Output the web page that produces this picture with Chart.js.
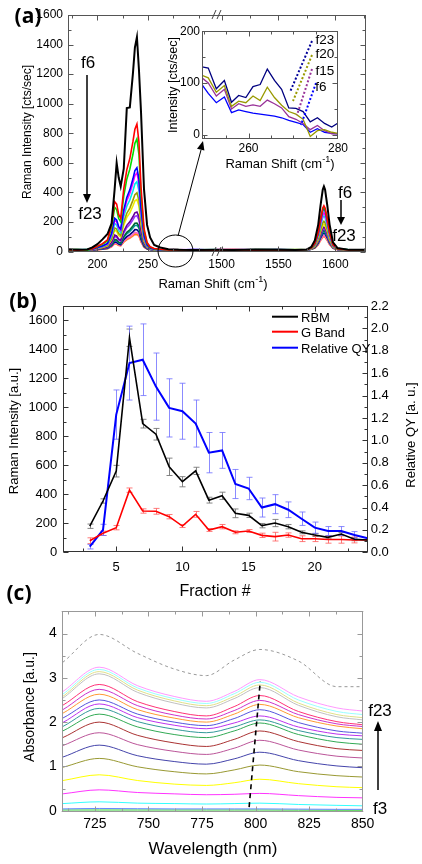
<!DOCTYPE html>
<html>
<head>
<meta charset="utf-8">
<title>Raman, QY and absorbance of sorted fractions</title>
<script src="https://cdn.jsdelivr.net/npm/chart.js@4"></script>
<style>
  body { margin: 0; background: #fff; }
  #fig { position: relative; width: 422px; height: 864px; overflow: hidden; font-family: "Liberation Sans", Arial, sans-serif; }
  #fig canvas { position: absolute; }
  .lbl { position: absolute; white-space: nowrap; line-height: 1; color: #000; transform: translate(-50%, -50%); }
  .rot { transform: translate(-50%, -50%) rotate(-90deg); }
  .left { transform: translate(0, -50%); }
  .panel { font-family: "Open Sans", sans-serif; font-weight: bold; }
  sup { font-size: 70%; line-height: 0; }
  svg { position: absolute; left: 0; top: 0; }
</style>
</head>
<body>
<div id="fig">
  <canvas id="aL" width="217" height="290" style="left:0;top:0"></canvas>
  <canvas id="aR" width="222" height="290" style="left:200px;top:0"></canvas>
  <canvas id="aI" width="190" height="140" style="left:160px;top:22px"></canvas>
  <canvas id="b" width="422" height="320" style="left:0;top:282px"></canvas>
  <canvas id="c" width="422" height="266" style="left:0;top:598px"></canvas>

  <svg width="422" height="864">
    <!-- axis break -->
    <path d="M212,19 L216,10 M217,19 L221,10 M212,256 L216,247 M217,256 L221,247" stroke="#444" stroke-width="1" fill="none"/>
    <!-- zoom marker -->
    <ellipse cx="175.5" cy="251" rx="17.5" ry="16" fill="none" stroke="#000" stroke-width="1"/>
    <line x1="178" y1="236" x2="201" y2="150" stroke="#000" stroke-width="1"/>
    <polygon points="203,141 204.4,150.6 197,148.7" fill="#000"/>
    <!-- f6 -> f23 arrows -->
    <line x1="87" y1="75" x2="87" y2="195" stroke="#000" stroke-width="1.5"/>
    <polygon points="83,194 91,194 87,203" fill="#000"/>
    <line x1="341" y1="200" x2="341" y2="218" stroke="#000" stroke-width="1.5"/>
    <polygon points="337,217 345,217 341,225" fill="#000"/>
    <!-- inset guide lines -->
    <line x1="312" y1="41" x2="290" y2="92" stroke="#000099" stroke-width="2" stroke-dasharray="2 2"/>
    <line x1="312" y1="55" x2="293" y2="101" stroke="#999900" stroke-width="2" stroke-dasharray="2 2"/>
    <line x1="312" y1="69" x2="297" y2="115" stroke="#993399" stroke-width="2" stroke-dasharray="2 2"/>
    <line x1="316" y1="83" x2="301" y2="125" stroke="#0000ff" stroke-width="2" stroke-dasharray="2 2"/>
    <!-- legend (b) -->
    <line x1="272" y1="316.7" x2="298" y2="316.7" stroke="#000" stroke-width="2"/>
    <line x1="272" y1="331.7" x2="298" y2="331.7" stroke="#ff0000" stroke-width="2"/>
    <line x1="272" y1="347.7" x2="298" y2="347.7" stroke="#0000ff" stroke-width="2"/>
    <!-- f3 -> f23 arrow -->
    <line x1="378" y1="790" x2="378" y2="729" stroke="#000" stroke-width="1.5"/>
    <polygon points="374,731 382,731 378,721" fill="#000"/>
  </svg>

  <div class="lbl panel" style="left:28px;top:15px;font-size:21px">(a)</div>
  <div class="lbl rot" style="left:27px;top:132px;font-size:12px">Raman Intensity [cts/sec]</div>
  <div class="lbl" style="left:213px;top:283px;font-size:13px">Raman Shift (cm<sup>-1</sup>)</div>
  <div class="lbl" style="left:88px;top:62px;font-size:17px">f6</div>
  <div class="lbl" style="left:90px;top:213px;font-size:17px">f23</div>
  <div class="lbl" style="left:345px;top:192px;font-size:17px">f6</div>
  <div class="lbl" style="left:344px;top:235px;font-size:17px">f23</div>
  <div class="lbl rot" style="left:173px;top:85px;font-size:12.5px">Intensity [cts/sec]</div>
  <div class="lbl" style="left:280px;top:163px;font-size:13px">Raman Shift (cm<sup>-1</sup>)</div>
  <div class="lbl" style="left:325px;top:40px;font-size:13.5px">f23</div>
  <div class="lbl" style="left:325px;top:54px;font-size:13.5px">f20</div>
  <div class="lbl" style="left:325px;top:71px;font-size:13.5px">f15</div>
  <div class="lbl" style="left:321px;top:87px;font-size:13.5px">f6</div>

  <div class="lbl panel" style="left:23px;top:300px;font-size:21px">(b)</div>
  <div class="lbl rot" style="left:12.5px;top:431px;font-size:13px">Raman Intensity [a.u.]</div>
  <div class="lbl rot" style="left:410px;top:435px;font-size:13px">Relative QY [a. u.]</div>
  <div class="lbl" style="left:215px;top:591px;font-size:16px">Fraction #</div>
  <div class="lbl left" style="left:301px;top:316.7px;font-size:13px">RBM</div>
  <div class="lbl left" style="left:301px;top:331.7px;font-size:13px">G Band</div>
  <div class="lbl left" style="left:301px;top:347.7px;font-size:13px">Relative QY</div>

  <div class="lbl panel" style="left:19px;top:592px;font-size:21px">(c)</div>
  <div class="lbl rot" style="left:28.5px;top:707px;font-size:14px">Absorbance [a.u.]</div>
  <div class="lbl" style="left:213px;top:848px;font-size:17px">Wavelength (nm)</div>
  <div class="lbl" style="left:380px;top:710px;font-size:17px">f23</div>
  <div class="lbl" style="left:380px;top:808px;font-size:17px">f3</div>
</div>

<script>
var FONT = '"Liberation Sans", Arial, sans-serif';

// ---- (a) Raman spectra, RBM region (left) and G band (right); f6 first ----
var shiftRBM = [171,180,190,195,200,205,210,214,217,219,221,223,226,229,232,235,237,239,241,243,246,249,252,256,262,270,280,295,318];
var shiftG = [1496,1510,1530,1550,1565,1575,1579,1582,1585,1587,1589,1590,1591,1593,1595,1598,1602,1612,1627];
var fractionColors = ['#000000','#ff0000','#00dd00','#0000ff','#ff00ff','#00e5ee','#9c9c00','#eeee00','#660099','#9933ff','#006633','#009999','#000080','#ff66cc','#ff8c00','#ff9999'];

var spectraRBM = [
  [15,12,14,28,50,82,118,190,420,600,500,440,560,970,975,1200,1380,1450,1230,950,420,180,95,44,27,15,12,10,12],
  [12,9,14,19,36,53,79,182,337,320,251,225,423,552,629,741,827,862,741,440,156,62,32,20,15,10,12,9,11],
  [11,13,9,18,33,48,71,162,299,284,223,200,375,489,557,656,732,762,656,390,139,56,29,18,14,10,13,8,12],
  [10,14,11,16,27,38,55,123,225,213,168,151,281,366,417,490,547,567,490,293,106,44,24,16,13,12,9,14,10],
  [13,10,12,15,26,37,52,116,211,201,158,143,264,344,392,461,514,532,461,275,100,42,23,15,12,11,13,10,12],
  [10,12,14,15,24,34,48,104,189,179,142,128,236,306,348,410,457,472,410,245,90,38,22,14,12,10,12,9,11],
  [12,9,13,14,22,30,42,89,160,152,121,109,200,259,294,346,385,397,346,208,77,34,20,14,12,11,9,12,10],
  [10,13,11,14,21,28,38,80,143,136,108,98,178,231,262,308,343,352,308,185,70,31,19,13,12,10,12,11,9],
  [11,10,12,13,18,23,31,63,111,105,84,76,137,177,201,235,262,267,235,143,55,26,17,12,11,12,10,11,12],
  [12,11,10,12,17,22,29,58,101,96,77,70,125,161,183,214,238,242,214,130,51,24,16,13,11,10,11,13,10],
  [10,12,11,12,16,20,25,48,82,78,63,58,101,130,147,172,191,192,172,105,42,21,15,12,11,11,10,12,11],
  [11,10,13,12,15,19,24,45,77,73,59,54,94,120,136,159,176,177,159,98,40,21,14,12,11,12,10,11,13],
  [10,11,12,11,14,17,22,39,65,62,51,46,80,101,114,133,148,147,133,83,35,19,14,11,10,10,11,12,10],
  [12,10,11,11,14,16,20,35,58,55,45,41,70,89,100,116,129,127,116,73,31,18,13,12,11,10,12,11,10],
  [11,10,12,11,13,16,19,33,54,51,42,39,65,82,93,108,119,117,108,68,30,17,13,11,10,10,11,12,10],
  [10,12,11,11,13,15,19,32,52,50,41,38,63,79,89,104,114,112,104,65,29,17,13,11,11,11,10,12,11]
];

var spectraG = [
  [12,10,13,11,10,14,32,75,182,311,419,440,419,311,182,62,23,11,12],
  [11,13,9,12,10,13,25,55,130,220,295,310,295,220,130,46,19,10,12],
  [12,10,13,11,12,13,25,54,126,213,286,300,286,213,126,45,19,11,10],
  [10,12,11,13,11,13,24,52,122,206,276,290,276,206,122,44,18,12,11],
  [13,11,12,10,12,13,23,48,110,185,248,260,248,185,110,40,18,10,12],
  [11,10,12,12,11,12,22,45,102,171,229,240,229,171,102,38,17,12,10],
  [10,12,11,13,10,12,20,39,88,147,195,205,195,147,88,33,16,11,12],
  [12,11,10,12,13,12,19,36,80,133,176,185,176,133,80,31,15,12,11],
  [11,13,12,10,11,12,18,33,72,119,157,165,157,119,72,29,15,10,12],
  [10,11,13,12,10,11,17,32,68,112,148,155,148,112,68,27,14,12,11],
  [12,10,11,13,12,11,17,30,64,105,138,145,138,105,64,26,14,11,10],
  [11,12,10,11,13,11,16,29,60,98,129,135,129,98,60,25,14,12,11],
  [10,11,12,10,11,11,16,27,56,91,119,125,119,91,56,24,13,10,12],
  [12,10,11,12,10,11,15,25,50,80,105,110,105,80,50,22,13,11,10],
  [11,12,10,11,12,11,15,24,48,77,100,105,100,77,48,21,13,12,11],
  [10,11,12,10,11,11,15,24,46,73,96,100,96,73,46,21,13,10,12]
];

// inset, 250-280 cm-1
var insetShift = [249.6,251,252.8,254.6,256.2,257.8,259.4,261,262.6,264.2,265.8,267.4,269,270.6,272.2,273.8,275.4,277,278.6,280];
var insetF23 = [131,129,89,105,63,76,72,93,97,127,105,88,52,51,45,25,33,22,15,23];
var insetF20 = [115,110,82,95,55,65,62,75,66,92,72,57,45,40,30,-3,8,10,5,3];
var insetF15 = [110,100,75,88,50,60,55,58,55,67,60,52,35,30,22,10,18,8,2,2];
var insetF6 = [97,80,62,73,43,48,45,42,40,38,36,33,28,24,20,5,12,5,3,2];

// ---- (b) per-fraction intensities and QY ----
var fractionNo = [3,4,5,6,7,8,9,10,11,12,13,14,15,16,17,18,19,20,21,22,23,24];
var rbmInt = [180,354,560,1481,888,815,590,487,562,360,390,269,255,184,202,177,138,119,103,126,90,85];
var rbmErr = [15,15,40,60,30,40,60,35,25,20,25,30,15,15,25,15,10,10,10,10,10,0];
var gBandInt = [80,131,170,429,285,283,246,181,262,154,177,138,147,117,108,119,94,94,88,88,85,85];
var gBandErr = [20,15,15,15,15,20,15,10,20,10,15,10,10,15,30,15,20,20,25,25,20,0];
var relQY = [0.05,0.20,1.23,1.69,1.72,1.48,1.29,1.26,1.15,0.89,0.91,0.61,0.57,0.40,0.43,0.38,0.30,0.22,0.19,0.19,0.155,0.125];
var relQYErr = [0.02,0.05,0.22,0.33,0.32,0.30,0.26,0.25,0.21,0.18,0.16,0.13,0.10,0.085,0.085,0.07,0.06,0.05,0.04,0.04,0.03,0];

// ---- (c) absorbance, f23 (top) ... f3 (bottom) ----
var wavelength = [710,727,745,762,777,790,802,820,838,850];
var absColors = ['#ff99ff','#99ffff','#e0e08a','#c0c0c0','#ff3377','#cc33cc','#ff9933','#5555dd','#bb33ee','#339999','#33aa55','#aa3333','#bb5599','#4444aa','#999933','#ffff00','#ff33ff','#33ffff','#6688ff','#33cc33'];
var absorbance = [
  [2.69,3.24,2.82,2.58,2.47,2.69,2.96,2.57,2.32,2.25],
  [2.63,3.19,2.77,2.53,2.42,2.64,2.90,2.50,2.24,2.17],
  [2.58,3.14,2.72,2.48,2.37,2.58,2.84,2.43,2.17,2.10],
  [2.54,3.09,2.67,2.43,2.32,2.53,2.78,2.38,2.12,2.05],
  [2.38,2.85,2.46,2.24,2.14,2.35,2.60,2.24,2.01,1.94],
  [2.28,2.74,2.37,2.16,2.07,2.26,2.49,2.17,1.96,1.90],
  [2.20,2.63,2.28,2.09,2.00,2.18,2.40,2.10,1.91,1.85],
  [2.09,2.50,2.18,2.00,1.92,2.08,2.28,1.99,1.80,1.75],
  [1.99,2.41,2.10,1.93,1.85,1.98,2.14,1.89,1.73,1.69],
  [1.90,2.31,2.01,1.84,1.76,1.89,2.05,1.81,1.65,1.61],
  [1.80,2.18,1.89,1.72,1.65,1.80,1.98,1.72,1.55,1.50],
  [1.65,2.00,1.70,1.53,1.45,1.61,1.80,1.56,1.40,1.36],
  [1.47,1.76,1.49,1.34,1.27,1.41,1.59,1.37,1.23,1.19],
  [1.21,1.48,1.24,1.11,1.05,1.17,1.32,1.13,1.01,0.97],
  [0.98,1.18,0.99,0.88,0.83,0.92,1.03,0.88,0.79,0.76],
  [0.68,0.81,0.68,0.60,0.57,0.63,0.71,0.61,0.54,0.52],
  [0.38,0.47,0.41,0.38,0.36,0.37,0.39,0.34,0.30,0.29],
  [0.16,0.20,0.17,0.16,0.15,0.16,0.17,0.14,0.12,0.11],
  [0.04,0.05,0.045,0.04,0.04,0.04,0.04,0.035,0.03,0.03],
  [0.015,0.015,0.015,0.015,0.015,0.015,0.015,0.012,0.01,0.01]
];
var absReference = [3.35,3.98,3.55,3.20,3.05,3.40,3.64,3.38,2.80,2.80];
var peakShiftX = [797, 802.2];
var peakShiftY = [0.08, 2.92];

// ---- ticks ----
var aYTicks = [0,200,400,600,800,1000,1200,1400,1600], aYMinor = [100,300,500,700,900,1100,1300,1500];
var aLTicks = [200,250], aLMinor = [175,225,275,300];
var aRTicks = [1500,1550,1600], aRMinor = [1525,1575,1625];
var insXTicks = [260,280], insXMinor = [250,255,265,270,275];
var insYTicks = [0,100,200], insYMinor = [50,150];
var bXTicks = [5,10,15,20], bXMinor = [2.5,7.5,12.5,17.5,22.5];
var bYTicks = [0,200,400,600,800,1000,1200,1400,1600], bYMinor = [100,300,500,700,900,1100,1300,1500,1700];
var bY2Ticks = [0,0.2,0.4,0.6,0.8,1.0,1.2,1.4,1.6,1.8,2.0,2.2], bY2Minor = [0.1,0.3,0.5,0.7,0.9,1.1,1.3,1.5,1.7,1.9,2.1];
var cXTicks = [725,750,775,800,825,850], cXMinor = [712.5,737.5,762.5,787.5,812.5,837.5];
var cYTicks = [0,1,2,3,4], cYMinor = [0.5,1.5,2.5,3.5];

// frame + inward tick marks, per canvas
var frames = {
  aL: {sides: 'tbl', color: '#555', x: [aLTicks, aLMinor], y: [aYTicks, aYMinor]},
  aR: {sides: 'tbr', color: '#555', x: [aRTicks, aRMinor], y: [aYTicks, aYMinor]},
  aI: {sides: 'tblr', color: '#555', x: [insXTicks, insXMinor], y: [insYTicks, insYMinor]},
  b: {sides: 'tblr', color: '#333', x: [bXTicks, bXMinor], y: [bYTicks, bYMinor], y2: [bY2Ticks, bY2Minor]},
  c: {sides: 'tblr', color: '#999', x: [cXTicks, cXMinor], y: [cYTicks, cYMinor]}
};

var errorBars = {
  b: [
    {axis: 'y', color: 'rgba(120,120,120,0.9)', y: rbmInt, err: rbmErr},
    {axis: 'y', color: 'rgba(255,90,90,0.8)', y: gBandInt, err: gBandErr},
    {axis: 'y2', color: 'rgba(110,110,255,0.8)', y: relQY, err: relQYErr}
  ]
};

var framePlugin = {
  id: 'frame',
  afterDatasetsDraw: function(chart) {
    var f = frames[chart.canvas.id];
    if (!f) return;
    var ctx = chart.ctx, a = chart.chartArea;
    var L = Math.round(a.left) + 0.5, R = Math.round(a.right) - 0.5;
    var T = Math.round(a.top) + 0.5, B = Math.round(a.bottom) - 0.5;
    ctx.save();
    ctx.strokeStyle = f.color;
    ctx.lineWidth = 1;
    ctx.beginPath();
    if (f.sides.indexOf('t') >= 0) { ctx.moveTo(a.left, T); ctx.lineTo(a.right, T); }
    if (f.sides.indexOf('b') >= 0) { ctx.moveTo(a.left, B); ctx.lineTo(a.right, B); }
    if (f.sides.indexOf('l') >= 0) { ctx.moveTo(L, a.top); ctx.lineTo(L, a.bottom); }
    if (f.sides.indexOf('r') >= 0) { ctx.moveTo(R, a.top); ctx.lineTo(R, a.bottom); }
    var xs = chart.scales.x;
    [[f.x[0], 5], [f.x[1], 3]].forEach(function(t) {
      t[0].forEach(function(v) {
        var p = Math.round(xs.getPixelForValue(v)) + 0.5;
        if (p < a.left || p > a.right) return;
        ctx.moveTo(p, B); ctx.lineTo(p, B - t[1]);
        ctx.moveTo(p, T); ctx.lineTo(p, T + t[1]);
      });
    });
    function yMarks(scale, vals, len, side) {
      vals.forEach(function(v) {
        var p = Math.round(scale.getPixelForValue(v)) + 0.5;
        if (p < a.top - 1 || p > a.bottom + 1) return;
        if (side === 'l') { ctx.moveTo(L, p); ctx.lineTo(L + len, p); }
        else { ctx.moveTo(R, p); ctx.lineTo(R - len, p); }
      });
    }
    if (f.sides.indexOf('l') >= 0) { yMarks(chart.scales.y, f.y[0], 5, 'l'); yMarks(chart.scales.y, f.y[1], 3, 'l'); }
    if (f.sides.indexOf('r') >= 0) {
      var s = f.y2 ? chart.scales.y2 : chart.scales.y, t = f.y2 || f.y;
      yMarks(s, t[0], 5, 'r'); yMarks(s, t[1], 3, 'r');
    }
    ctx.stroke();
    ctx.restore();
  }
};

var errorBarPlugin = {
  id: 'errbars',
  beforeDatasetsDraw: function(chart) {
    var list = errorBars[chart.canvas.id];
    if (!list) return;
    var ctx = chart.ctx, xs = chart.scales.x;
    ctx.save();
    ctx.lineWidth = 1;
    list.forEach(function(e) {
      var ys = chart.scales[e.axis];
      ctx.strokeStyle = e.color;
      ctx.beginPath();
      fractionNo.forEach(function(xv, i) {
        if (!e.err[i]) return;
        var px = Math.round(xs.getPixelForValue(xv)) + 0.5;
        var top = ys.getPixelForValue(e.y[i] + e.err[i]);
        var bot = ys.getPixelForValue(e.y[i] - e.err[i]);
        ctx.moveTo(px, top); ctx.lineTo(px, bot);
        ctx.moveTo(px - 3, top); ctx.lineTo(px + 3, top);
        ctx.moveTo(px - 3, bot); ctx.lineTo(px + 3, bot);
      });
      ctx.stroke();
    });
    ctx.restore();
  }
};

Chart.register(framePlugin, errorBarPlugin);
Chart.defaults.font.family = FONT;
Chart.defaults.color = '#000';
Chart.defaults.animation = false;
Chart.defaults.plugins.legend.display = false;
Chart.defaults.plugins.tooltip.enabled = false;

function axis(min, max, ticks, o) {
  return {
    type: 'linear', min: min, max: max, display: o.display !== false, position: o.position,
    grid: {display: false, drawTicks: false, tickLength: 0},
    border: {display: false},
    ticks: {font: {size: o.size}, color: '#000', padding: o.pad, autoSkip: false, maxRotation: 0,
            callback: o.fmt || function(v) { return String(v); }},
    afterBuildTicks: function(s) { s.ticks = ticks.map(function(v) { return {value: v}; }); },
    afterFit: function(s) {
      if (o.w != null) s.width = o.w;
      if (o.h != null) s.height = o.h;
    }
  };
}

function series(xs, ys, color, width, extra) {
  var ds = {
    data: xs.map(function(x, i) { return {x: x, y: ys[i]}; }),
    borderColor: color, borderWidth: width, pointRadius: 0, tension: 0, fill: false
  };
  return Object.assign(ds, extra || {});
}

function baseOptions(padding, scales) {
  return {responsive: false, animation: false, layout: {padding: padding}, scales: scales};
}

// (a) left: RBM
new Chart(document.getElementById('aL'), {
  type: 'line',
  data: {datasets: spectraRBM.map(function(ys, k) { return series(shiftRBM, ys, fractionColors[k], k === 0 ? 2 : 1.6); })},
  options: baseOptions({top: 15, left: 0, right: 0, bottom: 18.5}, {
    x: axis(171, 318, aLTicks, {size: 12, pad: 6, h: 20}),
    y: axis(0, 1600, aYTicks, {size: 12, pad: 5, w: 68})
  })
});

// (a) right: G band
new Chart(document.getElementById('aR'), {
  type: 'line',
  data: {datasets: spectraG.map(function(ys, k) { return series(shiftG, ys, fractionColors[k], k === 0 ? 2 : 1.6); })},
  options: baseOptions({top: 15, left: 17, right: 56, bottom: 18.5}, {
    x: axis(1496, 1627, aRTicks, {size: 12, pad: 6, h: 20}),
    y: axis(0, 1600, aYTicks, {size: 12, pad: 5, display: false})
  })
});

// (a) inset
new Chart(document.getElementById('aI'), {
  type: 'line',
  data: {datasets: [
    series(insetShift, insetF23, '#000080', 1.3),
    series(insetShift, insetF20, '#999900', 1.3),
    series(insetShift, insetF15, '#993399', 1.3),
    series(insetShift, insetF6, '#0000ff', 1.3)
  ]},
  options: baseOptions({top: 8, left: 0, right: 6, bottom: 3}, {
    x: axis(249.6, 280, insXTicks, {size: 12, pad: 2, h: 20}),
    y: axis(-8, 200, insYTicks, {size: 12, pad: 2, w: 42})
  })
});

// (b)
new Chart(document.getElementById('b'), {
  type: 'line',
  data: {datasets: [
    series(fractionNo, rbmInt, '#000000', 1.6, {yAxisID: 'y'}),
    series(fractionNo, gBandInt, '#ff0000', 1.6, {yAxisID: 'y'}),
    series(fractionNo, relQY, '#0000ff', 2, {yAxisID: 'y2'})
  ]},
  options: baseOptions({top: 24, left: 0, right: 0, bottom: 19.7}, {
    x: axis(1, 24, bXTicks, {size: 13, pad: 7, h: 30}),
    y: axis(0, 1700, bYTicks, {size: 13, pad: 6, w: 63.3, position: 'left'}),
    y2: axis(0, 2.2, bY2Ticks, {size: 13, pad: 3, w: 54.3, position: 'right',
      fmt: function(v) { return v.toFixed(1); }})
  })
});

// (c)
var cSets = absorbance.map(function(ys, k) {
  return series(wavelength, ys, absColors[k], 1, {cubicInterpolationMode: 'monotone'});
});
cSets.unshift(series(wavelength, absReference, '#999999', 1, {cubicInterpolationMode: 'monotone', borderDash: [3, 3]}));
cSets.unshift(series(peakShiftX, peakShiftY, '#000000', 1.6, {borderDash: [5, 4]}));
new Chart(document.getElementById('c'), {
  type: 'line',
  data: {datasets: cSets},
  options: baseOptions({top: 6, left: 0, right: 58.7, bottom: 28}, {
    x: axis(709.5, 850.3, cXTicks, {size: 14, pad: 4, h: 24}),
    y: axis(-0.03, 4.5, cYTicks, {size: 14, pad: 5, w: 61.7})
  })
});
</script>
</body>
</html>
